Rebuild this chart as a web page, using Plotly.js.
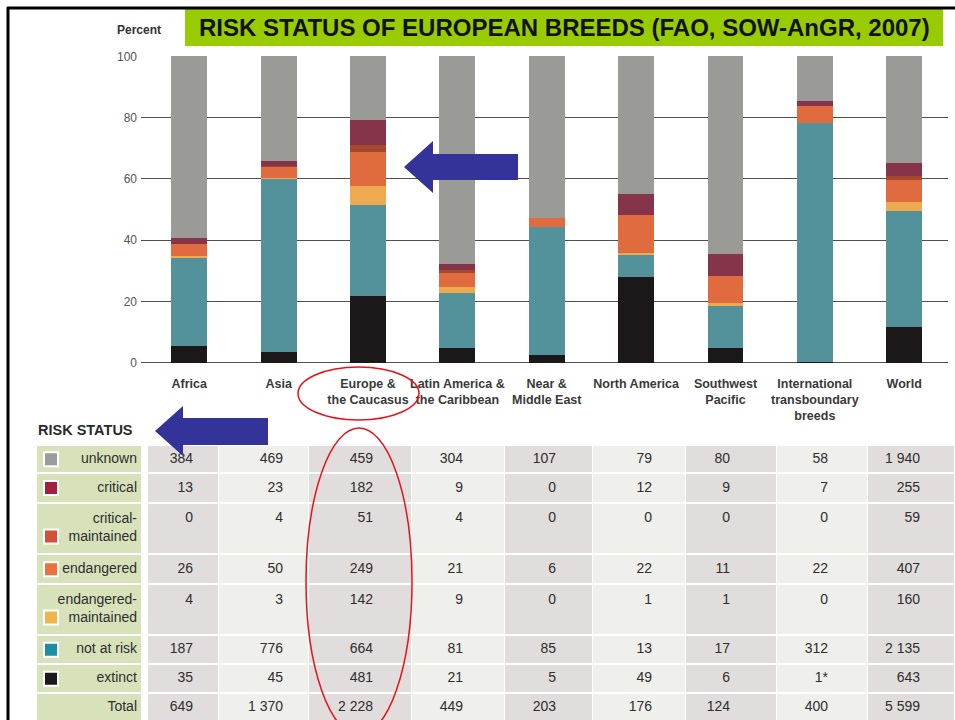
<!DOCTYPE html>
<html>
<head>
<meta charset="utf-8">
<script src="https://cdn.plot.ly/plotly-3.0.1.min.js"></script>
<style>
html, body { margin: 0; padding: 0; overflow: hidden; background: #fff; }
#chart { width: 955px; height: 750px; }
</style>
</head>
<body>
<div id="chart"></div>
<script>
// ---------- data ----------
const regions = ['Africa', 'Asia', 'Europe &<br>the Caucasus', 'Latin America &<br>the Caribbean',
  'Near &<br>Middle East', 'North America', 'Southwest<br>Pacific',
  'International<br>transboundary<br>breeds', 'World'];
const statusLabels = ['unknown', 'critical', 'critical-<br>maintained', 'endangered',
  'endangered-<br>maintained', 'not at risk', 'extinct'];
const totalLabel = 'Total';
const unknownCounts = [384, 469, 459, 304, 107, 79, 80, 58, 1940];
const criticalCounts = [13, 23, 182, 9, 0, 12, 9, 7, 255];
const criticalMaintainedCounts = [0, 4, 51, 4, 0, 0, 0, 0, 59];
const endangeredCounts = [26, 50, 249, 21, 6, 22, 11, 22, 407];
const endangeredMaintainedCounts = [4, 3, 142, 9, 0, 1, 1, 0, 160];
const notAtRiskCounts = [187, 776, 664, 81, 85, 13, 17, 312, 2135];
const extinctCounts = [35, 45, 481, 21, 5, 49, 6, 1, 643];
const extinctNotes = ['', '', '', '', '', '', '', '*', ''];
const totalCounts = [649, 1370, 2228, 449, 203, 176, 124, 400, 5599];
const yTicks = [0, 20, 40, 60, 80, 100];

// ---------- styles / layout constants ----------
const W = 955, H = 750;
const px = x => x / W;
const py = y => 1 - y / H;
const FONT = '"Liberation Sans", Arial, sans-serif';
const barColors = {
  unknown: '#9a9a97', critical: '#85344a', criticalMaintained: '#a4492f',
  endangered: '#e06b3f', endangeredMaintained: '#eeaa50', notAtRisk: '#53919b', extinct: '#1c1819'
};
const swatchColors = ['#9b9b9b', '#a0223f', '#d4503a', '#e8733e', '#f1b44a', '#1a8fa0', '#1a1a1a'];
const twoLine = [false, false, true, false, true, false, false, false];
// table geometry (pixel units of the overlay axes)
const colEdges = [37, 142, 148, 219, 309, 412, 505, 593, 686, 777, 868, 955];
const rowEdges = [445, 473.3, 502.7, 554.3, 584, 635, 664.3, 693.3, 722.6];
const numRight = [193, 283, 373, 463, 556, 652, 730, 828, 920];
const labelRight = 137, swatchX = 51;
const green = '#d7e2bb', dark = '#e1dddc', light = '#efefeb';
const textColor = '#2e2e2e';

// ---------- bars (percent of total) ----------
const pct = arr => arr.map((v, i) => v / totalCounts[i] * 100);
const stackOrder = [
  ['extinct', extinctCounts, barColors.extinct],
  ['not at risk', notAtRiskCounts, barColors.notAtRisk],
  ['endangered-maintained', endangeredMaintainedCounts, barColors.endangeredMaintained],
  ['endangered', endangeredCounts, barColors.endangered],
  ['critical-maintained', criticalMaintainedCounts, barColors.criticalMaintained],
  ['critical', criticalCounts, barColors.critical],
  ['unknown', unknownCounts, barColors.unknown]
];
const traces = stackOrder.map(([name, arr, color]) => ({
  type: 'bar', name: name, x: regions, y: pct(arr),
  marker: { color: color, line: { width: 0 } }, width: 0.4,
  xaxis: 'x', yaxis: 'y', showlegend: false, hoverinfo: 'name+y'
}));

// ---------- table: cell backgrounds ----------
const statusRows = [unknownCounts, criticalCounts, criticalMaintainedCounts, endangeredCounts,
  endangeredMaintainedCounts, notAtRiskCounts, extinctCounts, totalCounts];
const nRows = rowEdges.length - 1;
const zCells = [];
for (let r = 0; r < nRows; r++) {
  const row = [0, 1];
  regions.forEach((reg, j) => row.push(j % 2 === 0 ? 2 : 3));
  zCells.push(row);
}
traces.push({
  type: 'heatmap', x: colEdges, y: rowEdges, z: zCells, zmin: 0, zmax: 3,
  colorscale: [[0, green], [0.1667, green], [0.1667, '#ffffff'], [0.5, '#ffffff'],
    [0.5, dark], [0.8333, dark], [0.8333, light], [1, light]],
  showscale: false, xgap: 1, ygap: 2, hoverinfo: 'skip', xaxis: 'x2', yaxis: 'y2'
});

// ---------- table: text ----------
const rowCenter = [], rowTop = [];
for (let r = 0; r < nRows; r++) {
  rowCenter.push((rowEdges[r] + rowEdges[r + 1]) / 2);
  rowTop.push(rowEdges[r]);
}
const numY = rowCenter.map((c, r) => twoLine[r] ? rowTop[r] + 16 : c);
const fmt = n => String(n).replace(/\B(?=(\d{3})+(?!\d))/g, ' ');

// labels
traces.push({
  type: 'scatter', mode: 'text', xaxis: 'x2', yaxis: 'y2', hoverinfo: 'skip',
  x: statusLabels.concat([totalLabel]).map(() => labelRight),
  y: rowCenter,
  text: statusLabels.concat([totalLabel]),
  textposition: 'middle left',
  textfont: { family: FONT, size: 14, color: textColor }
});
// swatches
traces.push({
  type: 'scatter', mode: 'markers', xaxis: 'x2', yaxis: 'y2', hoverinfo: 'skip',
  x: swatchColors.map(() => swatchX),
  y: swatchColors.map((c, r) => twoLine[r] ? rowCenter[r] + 8 : rowCenter[r]),
  marker: { symbol: 'square', size: 14, color: swatchColors, line: { color: '#ffffff', width: 2 } }
});
// numbers
const numX = [], numYs = [], numText = [];
regions.forEach((reg, j) => {
  statusRows.forEach((row, r) => {
    numX.push(numRight[j]);
    numYs.push(numY[r]);
    numText.push(fmt(row[j]) + (r === 6 ? extinctNotes[j] : ''));
  });
});
traces.push({
  type: 'scatter', mode: 'text', xaxis: 'x2', yaxis: 'y2', hoverinfo: 'skip',
  x: numX, y: numYs, text: numText, textposition: 'middle left',
  textfont: { family: FONT, size: 14, color: textColor }
});

// ---------- decorations ----------
const arrow = (tipX, tipY, backX, headTop, headBot, shaftTop, shaftBot, endX) =>
  'M' + px(tipX) + ',' + py(tipY) +
  ' L' + px(backX) + ',' + py(headTop) +
  ' L' + px(backX) + ',' + py(shaftTop) +
  ' L' + px(endX) + ',' + py(shaftTop) +
  ' L' + px(endX) + ',' + py(shaftBot) +
  ' L' + px(backX) + ',' + py(shaftBot) +
  ' L' + px(backX) + ',' + py(headBot) + ' Z';

const shapes = [
  { type: 'rect', xref: 'paper', yref: 'paper', x0: px(185), x1: px(943), y0: py(46), y1: py(9),
    fillcolor: '#99cc00', line: { width: 0 }, layer: 'below' },
  { type: 'line', xref: 'paper', yref: 'paper', x0: px(8), x1: px(8), y0: 0, y1: py(7),
    line: { color: '#000', width: 3 } },
  { type: 'line', xref: 'paper', yref: 'paper', x0: px(7), x1: 1, y0: py(8), y1: py(8),
    line: { color: '#000', width: 3 } },
  { type: 'circle', xref: 'paper', yref: 'paper', x0: px(298), x1: px(419), y0: py(420), y1: py(367),
    line: { color: '#e3141c', width: 1.5 } },
  { type: 'circle', xref: 'paper', yref: 'paper', x0: px(306), x1: px(412), y0: py(735), y1: py(428),
    line: { color: '#e3141c', width: 1.5 } },
  { type: 'path', xref: 'paper', yref: 'paper', path: arrow(404, 167, 433, 141, 193, 154, 180, 518),
    fillcolor: '#333399', line: { width: 0 } },
  { type: 'path', xref: 'paper', yref: 'paper', path: arrow(155, 431, 183, 406, 456, 418, 445, 268),
    fillcolor: '#333399', line: { width: 0 } }
];

const annotations = [
  { text: 'RISK STATUS OF EUROPEAN BREEDS (FAO, SOW-AnGR, 2007)', xref: 'paper', yref: 'paper',
    x: px(564), y: py(28), xanchor: 'center', yanchor: 'middle', showarrow: false,
    font: { family: FONT, size: 24, color: '#111111', weight: 'bold' } },
  { text: 'Percent', xref: 'paper', yref: 'paper', x: px(139), y: py(30),
    xanchor: 'center', yanchor: 'middle', showarrow: false,
    font: { family: FONT, size: 12, color: '#333333', weight: 'bold' } },
  { text: 'RISK STATUS', xref: 'paper', yref: 'paper', x: px(36), y: py(430),
    xanchor: 'left', yanchor: 'middle', showarrow: false,
    font: { family: FONT, size: 14.5, color: '#2a2a2a', weight: 'bold' } }
];

const layout = {
  width: W, height: H,
  margin: { l: 0, r: 0, t: 0, b: 0 },
  paper_bgcolor: '#ffffff', plot_bgcolor: 'rgba(0,0,0,0)',
  barmode: 'stack',
  showlegend: false,
  xaxis: {
    domain: [px(141), px(948)], type: 'category', range: [-0.54, 8.49],
    showgrid: false, zeroline: false, showline: false, ticks: '', tickangle: 0,
    tickfont: { family: FONT, size: 12.5, color: '#3a3a3a', weight: 'bold' },
    ticklabelstandoff: 11, fixedrange: true, anchor: 'y'
  },
  yaxis: {
    domain: [py(363), py(56)], range: [-0.15, 100.15],
    tickvals: yTicks, ticktext: yTicks.map(String),
    showgrid: true, gridcolor: '#4f4f4f', gridwidth: 1,
    zeroline: true, zerolinecolor: '#4f4f4f', zerolinewidth: 1,
    showline: false, ticks: '',
    tickfont: { family: FONT, size: 12, color: '#555555' },
    ticklabelstandoff: 3, fixedrange: true, anchor: 'x'
  },
  xaxis2: { domain: [0, 1], range: [0, W], visible: false, anchor: 'y2', fixedrange: true },
  yaxis2: { domain: [0, 1], range: [H, 0], visible: false, anchor: 'x2', fixedrange: true },
  shapes: shapes,
  annotations: annotations
};

Plotly.newPlot('chart', traces, layout, { displayModeBar: false, staticPlot: true });
</script>
</body>
</html>
